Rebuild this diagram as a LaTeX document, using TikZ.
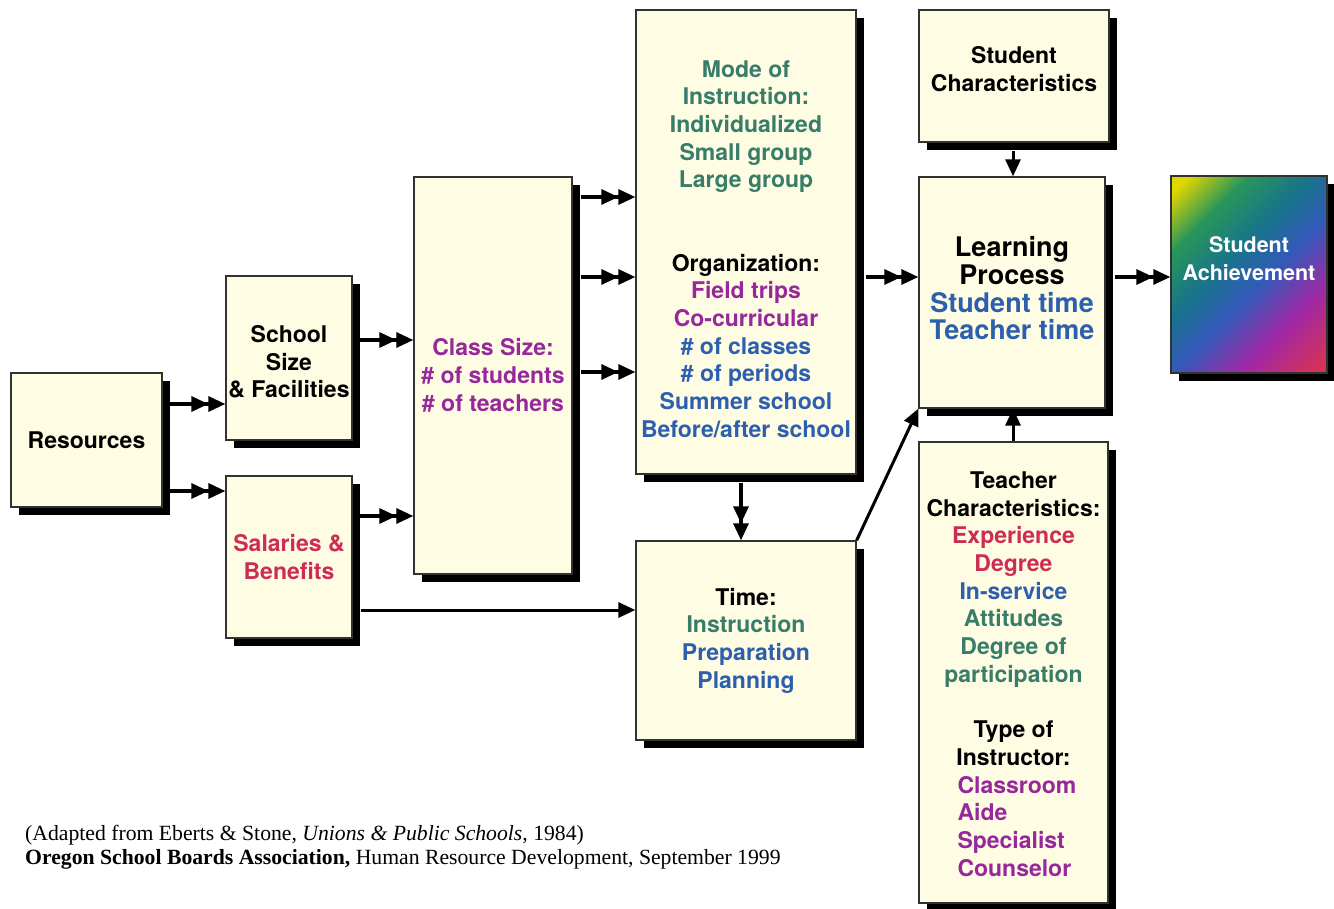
\documentclass[tikz,border=0pt]{standalone}
\usepackage{fontspec}
\setmainfont{TeX Gyre Heros}
\newfontfamily\footfont{Liberation Serif}
\usetikzlibrary{arrows.meta,shadows,calc}
\definecolor{cream}{RGB}{255,252,228}
\definecolor{boxline}{RGB}{50,50,50}
\definecolor{tealx}{RGB}{55,125,105}
\definecolor{purplex}{RGB}{150,40,155}
\definecolor{bluex}{RGB}{45,95,175}
\definecolor{crimsonx}{RGB}{205,45,85}
\definecolor{gyellow}{RGB}{225,215,0}
\definecolor{ggreen}{RGB}{40,150,90}
\definecolor{gteal}{RGB}{25,115,140}
\definecolor{gblue}{RGB}{50,90,185}
\definecolor{gpurple}{RGB}{160,40,165}
\definecolor{gred}{RGB}{215,50,85}
\pgfdeclareverticalshading{rainbowdiag}{100bp}{color(0bp)=(gred); color(17bp)=(gred); color(32bp)=(gpurple); color(46bp)=(gblue); color(57bp)=(gteal); color(70bp)=(ggreen); color(82bp)=(gyellow); color(100bp)=(gyellow)}
\newcommand\cTL{\color{tealx}}
\newcommand\cPU{\color{purplex}}
\newcommand\cBL{\color{bluex}}
\newcommand\cCR{\color{crimsonx}}
\newcommand\cBK{\color{black}}
\tikzset{
  box/.style={draw=boxline, line width=1.3pt, fill=cream, inner sep=0pt,
    drop shadow={shadow xshift=8pt, shadow yshift=-8pt, fill=black, opacity=1, draw=none}},
  txt/.style={inner sep=0pt, align=center, font=\fontsize{23}{27.7}\selectfont\bfseries},
  dbl/.style={line width=3.2pt, -{Triangle[length=17pt,width=15pt]Triangle[length=17pt,width=15pt]}},
  sgl/.style={line width=3pt, -{Triangle[length=17pt,width=15pt]}},
  foot/.style={anchor=base west, inner sep=0pt, font=\footfont\fontsize{21.7}{24}\selectfont}
}
\begin{document}
\begin{tikzpicture}[x=1pt,y=-1pt]
\useasboundingbox (0,0) rectangle (1334,909);
% boxes
\node[box, minimum width=151pt, minimum height=134pt] (res) at (86.5,440) {};
\node[box, minimum width=126pt, minimum height=164pt] (school) at (289,358) {};
\node[box, minimum width=126pt, minimum height=162pt] (sal) at (289,557) {};
\node[box, minimum width=158pt, minimum height=397pt] (cls) at (493,375.5) {};
\node[box, minimum width=220pt, minimum height=464pt] (mode) at (746,242) {};
\node[box, minimum width=220pt, minimum height=199pt] (time) at (746,640.5) {};
\node[box, minimum width=190pt, minimum height=132pt] (stu) at (1014,76) {};
\node[box, minimum width=186pt, minimum height=231pt] (learn) at (1012,292.5) {};
\node[box, minimum width=189pt, minimum height=461pt] (teach) at (1013.5,672.5) {};
\node[box, shading=rainbowdiag, shading angle=45, minimum width=156pt, minimum height=197pt] (ach) at (1249,274.5) {};
% texts
\node[txt] (resT) at (res.center) {Resources};
\node[txt] (schoolT) at ([yshift=-4pt]school.center) {School\\Size\\\& Facilities};
\node[txt] (salT) at (sal.center) {\cCR Salaries \&\\\cCR Benefits};
\node[txt] (clsT) at (cls.center) {\cPU Class Size:\\\cPU\# of students\\\cPU\# of teachers};
\node[txt] (modeT) at ([yshift=-7pt]mode.center) {\cTL Mode of\\\cTL Instruction:\\\cTL Individualized\\\cTL Small group\\\cTL Large group\\[55.4pt]\cBK Organization:\\\cPU Field trips\\\cPU Co-curricular\\\cBL\# of classes\\\cBL\# of periods\\\cBL Summer school\\\cBL Before/after school};
\node[txt] (timeT) at (time.center) {Time:\\\cTL Instruction\\\cBL Preparation\\\cBL Planning};
\node[txt] (stuT) at ([yshift=7pt]stu.center) {Student\\Characteristics};
\node[txt, font=\fontsize{27}{27.7}\selectfont\bfseries] (learnT) at ([yshift=4pt]learn.center) {Learning\\Process\\\cBL Student time\\\cBL Teacher time};
\node[txt] (teachT) at ([yshift=-1.5pt]teach.center) {Teacher\\Characteristics:\\\cCR Experience\\\cCR Degree\\\cBL In-service\\\cTL Attitudes\\\cTL Degree of\\\cTL participation\\[27.7pt]\cBK Type of\\\cBK Instructor:\\\cPU\makebox[112pt][l]{Classroom}\\\cPU\makebox[112pt][l]{Aide}\\\cPU\makebox[112pt][l]{Specialist}\\\cPU\makebox[112pt][l]{Counselor}};
\node[txt, text=white, font=\fontsize{21.5}{27.7}\selectfont\bfseries] (achT) at ([yshift=16pt]ach.center) {Student\\Achievement};
% row coordinates
\coordinate (r1) at (0,404);
\coordinate (r2) at (0,491);
\coordinate (r3) at (0,340);
\coordinate (r4) at (0,516);
\coordinate (r5) at (0,197);
\coordinate (r6) at (0,277);
\coordinate (r7) at (0,372);
\coordinate (r8) at (0,610);
\coordinate (c1) at (741,0);
\coordinate (c2) at (1013,0);
% connectors
\draw[dbl, shorten <=7pt] (res.east |- r1) -- (school.west |- r1);
\draw[dbl, shorten <=7pt] (res.east |- r2) -- (sal.west |- r2);
\draw[dbl, shorten <=7pt] (school.east |- r3) -- (cls.west |- r3);
\draw[dbl, shorten <=7pt] (sal.east |- r4) -- (cls.west |- r4);
\draw[dbl, shorten <=8pt] (cls.east |- r5) -- (mode.west |- r5);
\draw[dbl, shorten <=8pt] (cls.east |- r6) -- (mode.west |- r6);
\draw[dbl, shorten <=8pt] (cls.east |- r7) -- (mode.west |- r7);
\draw[sgl, shorten <=8pt] (sal.east |- r8) -- (time.west |- r8);
\draw[dbl, shorten <=8pt] (mode.south -| c1) -- (time.north -| c1);
\draw[sgl] (time.north east) -- (learn.south west);
\draw[dbl, shorten <=9pt] (mode.east |- r6) -- (learn.west |- r6);
\draw[sgl, shorten <=8pt] (stu.south -| c2) -- (learn.north -| c2);
\draw[sgl] (teach.north -| c2) -- (learn.south -| c2);
\draw[dbl, shorten <=9pt] (learn.east |- r6) -- (ach.west |- r6);
% footnote
\node[foot] (fn1) at (25,840) {(Adapted from Eberts \& Stone, \textit{Unions \& Public Schools}, 1984)};
\node[foot] (fn2) at (25,864) {\textbf{Oregon School Boards Association,} Human Resource Development, September 1999};
\end{tikzpicture}
\end{document}
